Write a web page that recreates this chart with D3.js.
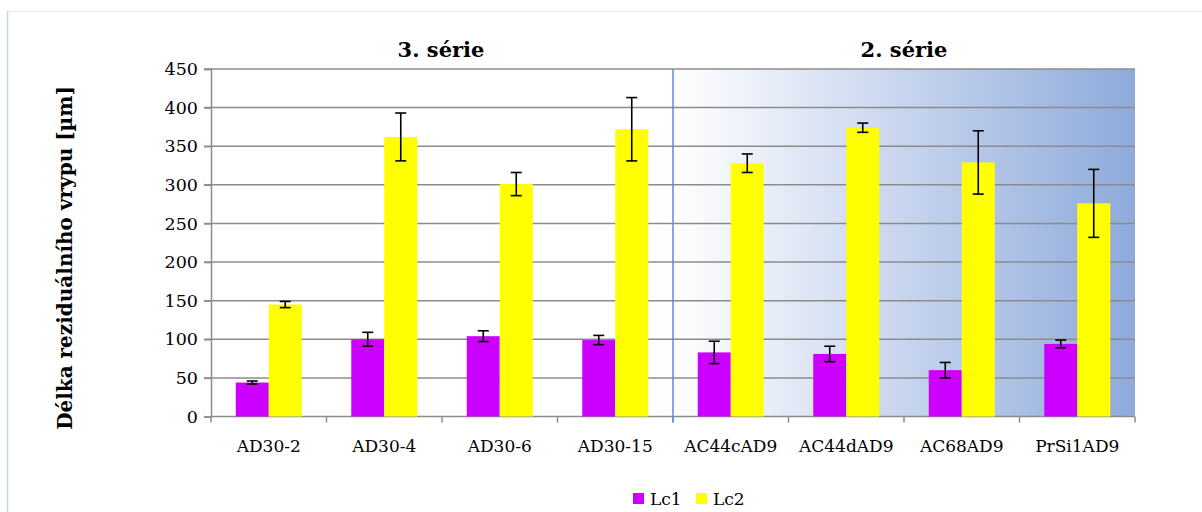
<!DOCTYPE html>
<html><head><meta charset="utf-8">
<script src="https://cdn.jsdelivr.net/npm/d3@7"></script>
<style>body{margin:0;background:#fff}svg{display:block}</style>
</head><body>
<svg id="c" width="1202" height="512"></svg>
<script>
const categories = ["AD30-2","AD30-4","AD30-6","AD30-15","AC44cAD9","AC44dAD9","AC68AD9","PrSi1AD9"];
const seriesNames = ["Lc1","Lc2"];
const lc1 = [44, 100, 104, 99, 83, 81, 60, 94];
const lc1Err = [2, 9, 7, 6, 14.5, 10, 10, 5];
const lc2 = [145, 362, 301, 372, 328, 374, 329, 276];
const lc2Err = [4, 31, 15, 41, 12, 6, 41, 44];
const yTicks = [0,50,100,150,200,250,300,350,400,450];
const groupTitles = ["3. série","2. série"];
const groupRanges = [[0,3],[4,7]];
const colors = {Lc1:"#CC00FF", Lc2:"#FFFF00"};

const svg = d3.select("#c");
const M = {left:211, right:1135, top:69, bottom:416.5};
const serif = "'DejaVu Serif', serif";

// outer frame
svg.append("rect").attr("x",7.5).attr("y",11.5).attr("width",1220).attr("height",520)
  .attr("fill","none").attr("stroke","#e4e8ef").attr("stroke-width",1);
svg.append("line").attr("x1",7.5).attr("x2",7.5).attr("y1",11).attr("y2",512).attr("stroke","#c5d3ea").attr("stroke-width",1.5);

const x = d3.scaleBand().domain(categories).range([M.left, M.right]).paddingInner(0).paddingOuter(0);
const xs = d3.scaleBand().domain(seriesNames).range([0, x.bandwidth()]).paddingInner(0).paddingOuter(0.75);
const y = d3.scaleLinear().domain([0,450]).range([M.bottom, M.top]);

// gradient background for 2nd group
const defs = svg.append("defs");
const g = defs.append("linearGradient").attr("id","bg").attr("x1","0").attr("x2","1").attr("y1","0").attr("y2","0");
g.append("stop").attr("offset","0").attr("stop-color","#ffffff");
g.append("stop").attr("offset","1").attr("stop-color","#8eaadb");
const gx0 = x(categories[groupRanges[1][0]]);
svg.append("rect").attr("x",gx0).attr("y",M.top).attr("width",M.right-gx0).attr("height",M.bottom-M.top).attr("fill","url(#bg)");

// gridlines
svg.append("g").selectAll("line").data(yTicks.filter(d=>d>0)).join("line")
  .attr("x1",M.left-7).attr("x2",M.right).attr("y1",d=>y(d)).attr("y2",d=>y(d))
  .attr("stroke","#8c8c8c").attr("stroke-width",1.5);

// y axis
const ya = svg.append("g").attr("transform",`translate(${M.left},0)`)
  .call(d3.axisLeft(y).tickValues(yTicks).tickSize(7).tickPadding(6));
ya.select(".domain").attr("stroke","#8c8c8c").attr("stroke-width",1.5);
ya.selectAll(".tick line").attr("stroke","#8c8c8c").attr("stroke-width",1.5);
ya.selectAll("text").attr("font-family",serif).attr("font-size",17.5).attr("fill","#000");

// x axis
const xa = svg.append("g").attr("transform",`translate(0,${M.bottom})`);
xa.append("line").attr("x1",M.left).attr("x2",M.right).attr("stroke","#8c8c8c").attr("stroke-width",1.5);
const bounds = categories.map(c=>x(c)).concat([M.right]);
xa.selectAll("line.t").data(bounds).join("line").attr("class","t")
  .attr("x1",d=>d).attr("x2",d=>d).attr("y1",0).attr("y2",6).attr("stroke","#8c8c8c").attr("stroke-width",1.5);
xa.selectAll("text").data(categories).join("text")
  .attr("x",d=>x(d)+x.bandwidth()/2).attr("y",35).attr("text-anchor","middle")
  .attr("font-family",serif).attr("font-size",17).attr("fill","#000").text(d=>d);

// divider
svg.append("line").attr("x1",gx0).attr("x2",gx0).attr("y1",M.top).attr("y2",M.bottom+6)
  .attr("stroke","#5b8bd6").attr("stroke-width",1.5);

// bars
const data = categories.flatMap((c,i)=>[
  {c, s:"Lc1", v:lc1[i], e:lc1Err[i]},
  {c, s:"Lc2", v:lc2[i], e:lc2Err[i]}
]);
svg.append("g").selectAll("rect").data(data).join("rect")
  .attr("x",d=>x(d.c)+xs(d.s)).attr("width",xs.bandwidth())
  .attr("y",d=>y(d.v)).attr("height",d=>y(0)-y(d.v))
  .attr("fill",d=>colors[d.s]);

// error bars
const eb = svg.append("g").attr("stroke","#000").attr("stroke-width",1.6);
data.forEach(d=>{
  const cx = x(d.c)+xs(d.s)+xs.bandwidth()/2;
  eb.append("line").attr("x1",cx).attr("x2",cx).attr("y1",y(d.v+d.e)).attr("y2",y(d.v-d.e));
  eb.append("line").attr("x1",cx-5.5).attr("x2",cx+5.5).attr("y1",y(d.v+d.e)).attr("y2",y(d.v+d.e));
  eb.append("line").attr("x1",cx-5.5).attr("x2",cx+5.5).attr("y1",y(d.v-d.e)).attr("y2",y(d.v-d.e));
});

// group titles
groupTitles.forEach((t,i)=>{
  const a = x(categories[groupRanges[i][0]]), b = x(categories[groupRanges[i][1]])+x.bandwidth();
  svg.append("text").attr("x",(a+b)/2+(i==0?-1:0)).attr("y",57).attr("text-anchor","middle")
    .attr("font-family",serif).attr("font-weight","bold").attr("font-size",21).attr("fill","#000").text(t);
});

// y label
svg.append("text").attr("transform","translate(72,258) rotate(-90)").attr("text-anchor","middle")
  .attr("font-family",serif).attr("font-weight","bold").attr("font-size",20).attr("fill","#000")
  .text("Délka reziduálního vrypu [µm]");

// legend
const lg = svg.append("g");
const lx = [633, 696];
seriesNames.forEach((s,i)=>{
  lg.append("rect").attr("x",lx[i]).attr("y",493).attr("width",11).attr("height",11).attr("fill",colors[s]);
  lg.append("text").attr("x",lx[i]+17).attr("y",505).attr("font-family",serif).attr("font-size",17).attr("fill","#000").text(s);
});
</script>
</body></html>
